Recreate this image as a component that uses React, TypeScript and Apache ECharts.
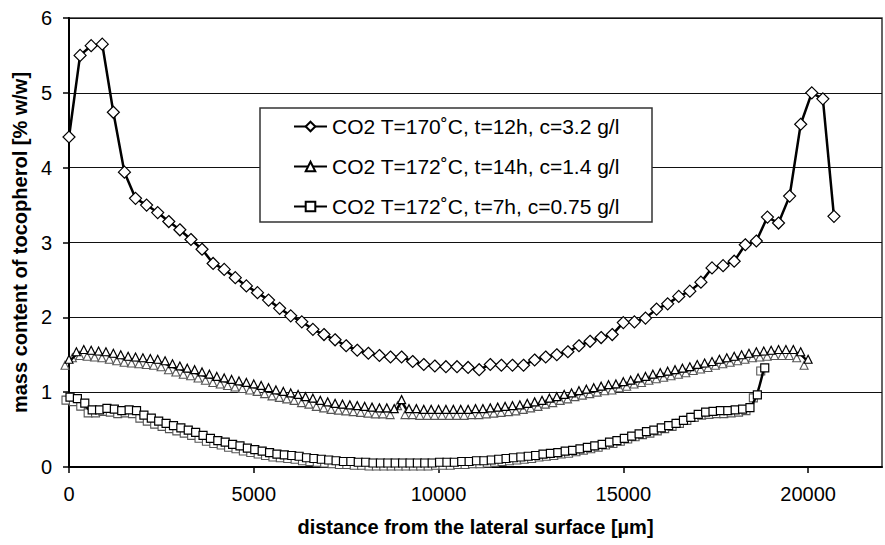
import React, { useEffect, useRef } from "react";
import * as echarts from "echarts";

const FONT = "'Liberation Sans', Arial, Helvetica, sans-serif";

const SERIES_NAMES = [
  "CO2 T=170˚C, t=12h, c=3.2 g/l",
  "CO2 T=172˚C, t=14h, c=1.4 g/l",
  "CO2 T=172˚C, t=7h, c=0.75 g/l",
];

const X_TICKS = [0, 5000, 10000, 15000, 20000];
const X_TITLE = "distance from the lateral surface [µm]";
const Y_TITLE = "mass content of tocopherol [% w/w]";

const DIAMOND_X = [
  0, 300, 600, 900, 1200, 1500, 1800, 2100, 2400, 2700, 3000, 3300, 3600, 3900,
  4200, 4500, 4800, 5100, 5400, 5700, 6000, 6300, 6600, 6900, 7200, 7500, 7800,
  8100, 8400, 8700, 9000, 9300, 9600, 9900, 10200, 10500, 10800, 11100, 11400,
  11700, 12000, 12300, 12600, 12900, 13200, 13500, 13800, 14100, 14400, 14700,
  15000, 15300, 15600, 15900, 16200, 16500, 16800, 17100, 17400, 17700, 18000,
  18300, 18600, 18900, 19200, 19500, 19800, 20100, 20400, 20700,
];
const DIAMOND_Y = [
  4.41, 5.5, 5.63, 5.65, 4.74, 3.94, 3.59, 3.5, 3.4, 3.28, 3.17, 3.04, 2.91,
  2.72, 2.64, 2.53, 2.42, 2.33, 2.23, 2.12, 2.02, 1.94, 1.84, 1.77, 1.7, 1.62,
  1.56, 1.52, 1.49, 1.47, 1.47, 1.41, 1.37, 1.35, 1.34, 1.34, 1.33, 1.3, 1.37,
  1.36, 1.36, 1.36, 1.43, 1.47, 1.5, 1.54, 1.62, 1.68, 1.73, 1.77, 1.93, 1.94,
  1.99, 2.11, 2.18, 2.28, 2.35, 2.47, 2.66, 2.69, 2.75, 2.97, 3.02, 3.34, 3.26,
  3.62, 4.58, 5.0, 4.92, 3.35,
];

const TRI_X = [
  0, 200, 400, 600, 800, 1000, 1200, 1400, 1600, 1800, 2000, 2200, 2400, 2600,
  2800, 3000, 3200, 3400, 3600, 3800, 4000, 4200, 4400, 4600, 4800, 5000, 5200,
  5400, 5600, 5800, 6000, 6200, 6400, 6600, 6800, 7000, 7200, 7400, 7600, 7800,
  8000, 8200, 8400, 8600, 8800, 9000, 9200, 9400, 9600, 9800, 10000, 10200,
  10400, 10600, 10800, 11000, 11200, 11400, 11600, 11800, 12000, 12200, 12400,
  12600, 12800, 13000, 13200, 13400, 13600, 13800, 14000, 14200, 14400, 14600,
  14800, 15000, 15200, 15400, 15600, 15800, 16000, 16200, 16400, 16600, 16800,
  17000, 17200, 17400, 17600, 17800, 18000, 18200, 18400, 18600, 18800, 19000,
  19200, 19400, 19600, 19800, 20000,
];
const TRI_Y = [
  1.4, 1.5, 1.53, 1.52, 1.51, 1.5, 1.48, 1.46, 1.44, 1.43, 1.42, 1.41, 1.4,
  1.38, 1.34, 1.31, 1.28, 1.26, 1.23, 1.2, 1.17, 1.15, 1.13, 1.11, 1.09, 1.07,
  1.05, 1.02, 0.99, 0.97, 0.95, 0.93, 0.9, 0.88, 0.85, 0.83, 0.81, 0.8, 0.79,
  0.78, 0.77, 0.76, 0.75, 0.75, 0.74, 0.86, 0.74, 0.74, 0.73, 0.73, 0.73, 0.73,
  0.73, 0.73, 0.73, 0.74, 0.74, 0.75, 0.76, 0.77, 0.78, 0.79, 0.81, 0.83, 0.85,
  0.88, 0.9, 0.93, 0.95, 0.98, 1.0, 1.02, 1.04, 1.06, 1.07, 1.1, 1.12, 1.15,
  1.17, 1.2, 1.22, 1.24, 1.26, 1.28, 1.3, 1.33, 1.35, 1.37, 1.4, 1.42, 1.44,
  1.46, 1.48, 1.5, 1.51, 1.52, 1.53, 1.53, 1.53, 1.5, 1.4,
];

const SQ_X = [
  0, 200, 400, 600, 800, 1000, 1200, 1400, 1600, 1800, 2000, 2200, 2400, 2600,
  2800, 3000, 3200, 3400, 3600, 3800, 4000, 4200, 4400, 4600, 4800, 5000, 5200,
  5400, 5600, 5800, 6000, 6200, 6400, 6600, 6800, 7000, 7200, 7400, 7600, 7800,
  8000, 8200, 8400, 8600, 8800, 9000, 9200, 9400, 9600, 9800, 10000, 10200,
  10400, 10600, 10800, 11000, 11200, 11400, 11600, 11800, 12000, 12200, 12400,
  12600, 12800, 13000, 13200, 13400, 13600, 13800, 14000, 14200, 14400, 14600,
  14800, 15000, 15200, 15400, 15600, 15800, 16000, 16200, 16400, 16600, 16800,
  17000, 17200, 17400, 17600, 17800, 18000, 18200, 18400, 18600, 18800,
];
const SQ_Y = [
  0.92, 0.9, 0.84, 0.75, 0.75, 0.77, 0.76, 0.74, 0.75, 0.74, 0.68, 0.64, 0.6,
  0.57, 0.54, 0.51, 0.48, 0.45, 0.41, 0.37, 0.34, 0.32, 0.29, 0.27, 0.24, 0.22,
  0.2, 0.18, 0.16, 0.15, 0.14, 0.13, 0.11, 0.1, 0.09, 0.08, 0.07, 0.06, 0.06,
  0.05, 0.05, 0.04, 0.04, 0.04, 0.04, 0.04, 0.04, 0.04, 0.04, 0.04, 0.05, 0.05,
  0.05, 0.06, 0.06, 0.07, 0.07, 0.08, 0.09, 0.1, 0.11, 0.12, 0.13, 0.14, 0.16,
  0.17, 0.18, 0.2, 0.21, 0.23, 0.25, 0.27, 0.29, 0.32, 0.34, 0.37, 0.4, 0.43,
  0.46, 0.48, 0.51, 0.54, 0.57, 0.61, 0.65, 0.69, 0.72, 0.73, 0.74, 0.74, 0.75,
  0.76, 0.78, 0.95, 1.31,
];

const zip = (xs: number[], ys: number[]) => xs.map((x, i) => [x, ys[i]]);

export default function App() {
  const ref = useRef<HTMLDivElement>(null);

  useEffect(() => {
    if (!ref.current) return;
    const chart = echarts.init(ref.current, null, { renderer: "svg" });
    const axisText = { fontSize: 20, color: "#000", fontFamily: FONT };
    const nameText = { fontSize: 20, fontWeight: "bold", color: "#000", fontFamily: FONT };
    const marker = { color: "#fff", borderColor: "#000", borderWidth: 1.2 };
    const ghost = { color: "#fff", borderColor: "#555", borderWidth: 1.1 };
    chart.setOption({
      animation: false,
      backgroundColor: "#fff",
      grid: {
        left: 69,
        right: 3,
        top: 18,
        bottom: 78,
        show: true,
        borderColor: "#333",
        borderWidth: 1.5,
        backgroundColor: "transparent",
        containLabel: false,
        outerBoundsMode: "none",
      },
      xAxis: {
        type: "value",
        min: 0,
        max: 22000,
        interval: 5000,
        name: X_TITLE,
        nameLocation: "middle",
        nameGap: 50,
        nameTextStyle: nameText,
        axisLine: { show: true, onZero: false, lineStyle: { color: "#000", width: 2 } },
        axisTick: {
          show: true,
          length: 6,
          customValues: X_TICKS,
          lineStyle: { color: "#000", width: 1.5 },
        },
        axisLabel: {
          ...axisText,
          margin: 17,
          customValues: X_TICKS,
          formatter: (v: number) => String(v),
        },
        splitLine: { show: false },
      },
      yAxis: {
        type: "value",
        min: 0,
        max: 6,
        interval: 1,
        name: Y_TITLE,
        nameLocation: "middle",
        nameGap: 35,
        nameTextStyle: nameText,
        axisLine: { show: true, lineStyle: { color: "#000", width: 2 } },
        axisTick: { show: true, length: 6, lineStyle: { color: "#000", width: 1.5 } },
        axisLabel: { ...axisText, margin: 17, formatter: (v: number) => String(v) },
        splitLine: { show: true, lineStyle: { color: "#111", width: 1 } },
      },
      legend: {
        orient: "vertical",
        left: 293,
        top: 116,
        padding: 0,
        itemWidth: 33,
        itemHeight: 12,
        itemGap: 19,
        selectedMode: false,
        z: 6,
        textStyle: { fontSize: 21, color: "#000", fontFamily: FONT, lineHeight: 21 },
        data: SERIES_NAMES,
      },
      graphic: [
        {
          type: "rect",
          z: 5,
          shape: { x: 260, y: 108, width: 392, height: 114 },
          style: { fill: "#fff", stroke: "#333", lineWidth: 1.5 },
        },
      ],
      series: [
        {
          type: "line",
          name: "square-echo",
          data: zip(SQ_X, SQ_Y),
          symbol: "rect",
          symbolSize: 8,
          symbolOffset: [-3, 2],
          lineStyle: { width: 0, opacity: 0 },
          itemStyle: ghost,
          silent: true,
          z: 1,
        },
        {
          type: "line",
          name: SERIES_NAMES[2],
          data: zip(SQ_X, SQ_Y),
          symbol: "rect",
          symbolSize: 8,
          symbolOffset: [1, -1],
          smooth: 0.3,
          lineStyle: { color: "#000", width: 2.5 },
          itemStyle: marker,
          z: 2,
        },
        {
          type: "line",
          name: "triangle-echo",
          data: zip(TRI_X, TRI_Y),
          symbol: "triangle",
          symbolSize: 8,
          symbolOffset: [-4, 3],
          lineStyle: { width: 0, opacity: 0 },
          itemStyle: ghost,
          silent: true,
          z: 2,
        },
        {
          type: "line",
          name: SERIES_NAMES[1],
          data: zip(TRI_X, TRI_Y),
          symbol: "triangle",
          symbolSize: 8,
          symbolOffset: [0, -3],
          smooth: 0.3,
          lineStyle: { color: "#000", width: 2.5 },
          itemStyle: marker,
          z: 3,
        },
        {
          type: "line",
          name: SERIES_NAMES[0],
          data: zip(DIAMOND_X, DIAMOND_Y),
          symbol: "diamond",
          symbolSize: 12,
          smooth: false,
          lineStyle: { color: "#000", width: 2.5 },
          itemStyle: marker,
          z: 4,
        },
      ],
    });
    return () => chart.dispose();
  }, []);

  return (
    <div
      ref={ref}
      style={{ position: "fixed", left: 0, top: 0, width: 885, height: 545, background: "#fff" }}
    />
  );
}
